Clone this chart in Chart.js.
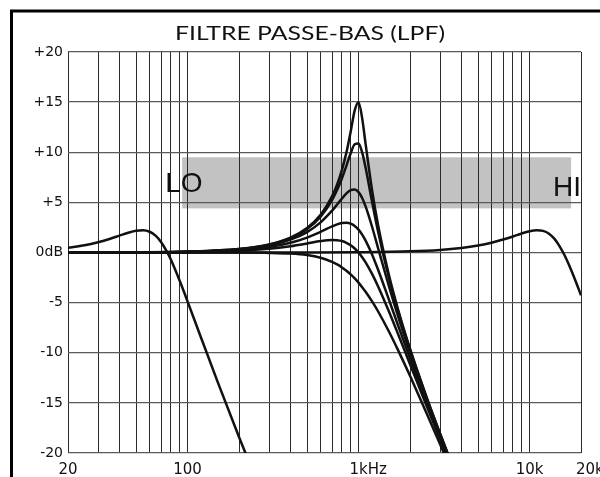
<!DOCTYPE html>
<html>
<head>
<meta charset="utf-8">
<script src="https://cdn.jsdelivr.net/npm/chart.js@4"></script>
<style>
  html, body { margin: 0; padding: 0; background: #fff; }
  canvas { display: block; }
</style>
</head>
<body>
<canvas id="lpfChart" width="600" height="477"></canvas>
<script>
// Frequencies (Hz) used for the low-pass family around 1 kHz
const lpfFreqs = [20, 50, 100, 200, 300, 400, 500, 600, 700, 750, 800, 850, 900, 950,
                  1000, 1050, 1100, 1200, 1300, 1500, 1700, 2000, 2500, 3000, 3500];

// Response (dB) of each resonance setting
const lpfRes15 = [0, 0.02, 0.09, 0.35, 0.8, 1.48, 2.44, 3.76, 5.6, 6.79, 8.24, 10.0, 12.08, 14.17,
                  15.0, 13.4, 10.83, 6.21, 2.76, -2.13, -5.64, -9.6, -14.43, -18.08, -21.04];
const lpfRes11 = [0, 0.02, 0.08, 0.34, 0.78, 1.44, 2.34, 3.58, 5.23, 6.25, 7.4, 8.67, 9.9, 10.8,
                  10.88, 9.98, 8.45, 5.07, 2.12, -2.42, -5.81, -9.7, -14.48, -18.11, -21.06];
const lpfRes6 = [0, 0.02, 0.08, 0.31, 0.7, 1.28, 2.04, 3.01, 4.17, 4.79, 5.38, 5.89, 6.22, 6.29,
                 6.02, 5.44, 4.6, 2.57, 0.46, -3.27, -6.33, -10.0, -14.64, -18.21, -21.13];
const lpfRes3 = [0, 0.02, 0.06, 0.24, 0.55, 0.97, 1.49, 2.06, 2.6, 2.81, 2.94, 2.97, 2.88, 2.65,
                 2.28, 1.79, 1.19, -0.19, -1.69, -4.62, -7.23, -10.56, -14.95, -18.41, -21.27];
const lpfRes1 = [0, 0.01, 0.04, 0.17, 0.37, 0.63, 0.9, 1.14, 1.25, 1.23, 1.14, 0.97, 0.73, 0.4,
                 0, -0.47, -0.98, -2.13, -3.36, -5.81, -8.1, -11.14, -15.29, -18.63, -21.42];
const lpfRes0 = [0, 0, 0, -0.01, -0.04, -0.11, -0.26, -0.53, -0.94, -1.19, -1.49, -1.82, -2.19, -2.59,
                 -3.01, -3.46, -3.92, -4.88, -5.86, -7.83, -9.71, -12.3, -16.03, -19.14, -21.79];

// LO setting
const loFreqs = [20, 25, 30, 35, 40, 45, 50, 55, 60, 65, 70, 75, 80, 90, 100, 120, 150, 200, 250];
const loValues = [0.48, 0.73, 1.03, 1.35, 1.68, 1.97, 2.17, 2.22, 2.07, 1.68, 1.05, 0.22, -0.72,
                  -2.82, -4.87, -8.5, -12.9, -18.4, -22.5];

// HI setting
const hiFreqs = [20, 500, 1000, 2000, 3000, 4000, 5000, 6000, 7000, 8000, 9000, 10000, 11000,
                 12000, 13000, 14000, 15000, 16000, 17000, 18000, 19000, 20000];
const hiValues = [0, 0, 0.03, 0.12, 0.26, 0.46, 0.7, 0.98, 1.29, 1.6, 1.9, 2.12, 2.22,
                  2.16, 1.88, 1.36, 0.62, -0.25, -1.22, -2.24, -3.26, -4.26];

// Gray sweep band (Hz, dB)
const bandFreqs = [93, 17500];
const bandDb = [4.4, 9.5];

// Grid and tick labels
const gridFreqs = [20, 30, 40, 50, 60, 70, 80, 90, 100, 200, 300, 400, 500, 600, 700, 800, 900,
                   1000, 2000, 3000, 4000, 5000, 6000, 7000, 8000, 9000, 10000, 20000];
const xTickValues = [20, 100, 1000, 10000, 20000];
const xTickLabels = ['20', '100', '1kHz', '10k', '20k'];
const yTickValues = [20, 15, 10, 5, 0, -5, -10, -15, -20];
const yTickLabels = ['+20', '+15', '+10', '+5', '0dB', '-5', '-10', '-15', '-20'];

const titleText = 'FILTRE PASSE-BAS (LPF)';

function toPoints(freqs, values) {
    return freqs.map((f, i) => ({ x: f, y: values[i] }));
}

function curve(freqs, values) {
    return {
        data: toPoints(freqs, values),
        borderColor: '#111',
        borderWidth: 2.5,
        pointRadius: 0,
        fill: false,
        cubicInterpolationMode: 'monotone'
    };
}

// Background, outer frame and gray band (under the grid)
const backgroundPlugin = {
    id: 'background',
    beforeDraw(chart) {
        const ctx = chart.ctx;
        const x = chart.scales.x;
        const y = chart.scales.y;
        ctx.save();
        ctx.fillStyle = '#fff';
        ctx.fillRect(0, 0, chart.width, chart.height);

        // frame (open to the right and bottom)
        ctx.strokeStyle = '#000';
        ctx.lineWidth = 3;
        ctx.beginPath();
        ctx.moveTo(11.5, chart.height);
        ctx.lineTo(11.5, 11);
        ctx.lineTo(chart.width, 11);
        ctx.stroke();

        // band
        const bx0 = x.getPixelForValue(bandFreqs[0]);
        const bx1 = x.getPixelForValue(bandFreqs[1]);
        const by0 = y.getPixelForValue(bandDb[1]);
        const by1 = y.getPixelForValue(bandDb[0]);
        ctx.fillStyle = '#c2c2c2';
        ctx.fillRect(bx0, by0, bx1 - bx0, by1 - by0);
        ctx.restore();
    }
};

// Title, tick labels and the LO / HI marks
const labelsPlugin = {
    id: 'labels',
    afterDraw(chart) {
        const ctx = chart.ctx;
        const x = chart.scales.x;
        const y = chart.scales.y;
        const area = chart.chartArea;
        ctx.save();
        ctx.fillStyle = '#111';

        // title, slightly stretched like the original artwork
        ctx.font = '20px Lato';
        const tw = ctx.measureText(titleText).width;
        const stretch = 270 / tw;
        ctx.save();
        ctx.translate(310, 39.5);
        ctx.scale(stretch, 1);
        ctx.textAlign = 'center';
        ctx.textBaseline = 'alphabetic';
        ctx.fillText(titleText, 0, 0);
        ctx.restore();

        // y tick labels
        ctx.font = '14px "DejaVu Sans"';
        ctx.textAlign = 'right';
        ctx.textBaseline = 'middle';
        yTickValues.forEach((v, i) => {
            ctx.fillText(yTickLabels[i], area.left - 5, y.getPixelForValue(v));
        });

        // x tick labels (centred on the number part, last one kept inside)
        ctx.font = '15px "DejaVu Sans"';
        ctx.textBaseline = 'alphabetic';
        ctx.textAlign = 'left';
        xTickValues.forEach((v, i) => {
            const label = xTickLabels[i];
            const px = x.getPixelForValue(v);
            const core = label.replace('Hz', '');
            let left = px - ctx.measureText(core).width / 2;
            if (i === xTickValues.length - 1) left = px - 5;
            ctx.fillText(label, left, area.bottom + 21);
        });

        // LO / HI
        ctx.font = '28px "Liberation Sans"';
        ctx.textAlign = 'left';
        ctx.fillText('LO', x.getPixelForValue(bandFreqs[0]) - 17, y.getPixelForValue(6));
        ctx.fillText('HI', x.getPixelForValue(bandFreqs[1]) - 18, y.getPixelForValue(5.6));
        ctx.restore();
    }
};

const ctx = document.getElementById('lpfChart').getContext('2d');
new Chart(ctx, {
    type: 'line',
    data: {
        datasets: [
            curve(lpfFreqs, lpfRes15),
            curve(lpfFreqs, lpfRes11),
            curve(lpfFreqs, lpfRes6),
            curve(lpfFreqs, lpfRes3),
            curve(lpfFreqs, lpfRes1),
            curve(lpfFreqs, lpfRes0),
            curve(loFreqs, loValues),
            curve(hiFreqs, hiValues)
        ]
    },
    options: {
        responsive: false,
        animation: false,
        devicePixelRatio: 1,
        layout: {
            padding: { left: 68, right: 19, top: 52, bottom: 24 }
        },
        plugins: {
            legend: { display: false },
            tooltip: { enabled: false },
            title: { display: false }
        },
        scales: {
            x: {
                type: 'logarithmic',
                min: 20,
                max: 20000,
                afterBuildTicks(scale) {
                    scale.ticks = gridFreqs.map(v => ({ value: v }));
                },
                ticks: { display: false },
                grid: { color: '#2a2a2a', lineWidth: 1, drawTicks: false },
                border: { display: false }
            },
            y: {
                type: 'linear',
                min: -20,
                max: 20,
                ticks: { display: false, stepSize: 5 },
                grid: { color: '#5a5a5a', lineWidth: 1.3, drawTicks: false },
                border: { display: false }
            }
        }
    },
    plugins: [backgroundPlugin, labelsPlugin]
});
</script>
</body>
</html>
